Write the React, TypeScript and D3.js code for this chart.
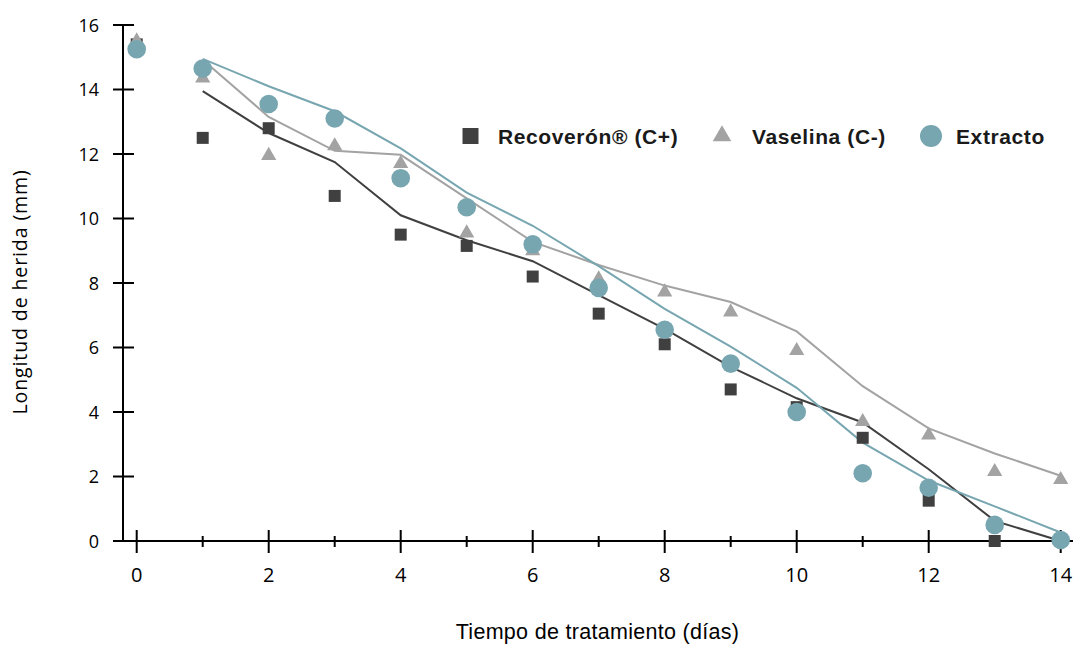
import React from 'react'
import * as d3 from 'd3'

// días de tratamiento
const days = [0, 1, 2, 3, 4, 5, 6, 7, 8, 9, 10, 11, 12, 13, 14]
// longitud de herida (mm) por grupo
const recoveron = [15.4, 12.5, 12.8, 10.7, 9.5, 9.15, 8.2, 7.05, 6.1, 4.7, 4.15, 3.2, 1.25, 0, 0]
const vaselina = [15.5, 14.35, 11.95, 12.25, 11.7, 9.55, 9.0, 8.12, 7.72, 7.1, 5.9, 3.7, 3.28, 2.15, 1.9]
const extracto = [15.25, 14.65, 13.55, 13.1, 11.25, 10.35, 9.2, 7.85, 6.55, 5.5, 4.0, 2.1, 1.65, 0.5, 0.03]

const seriesNames = ['Recoverón® (C+)', 'Vaselina (C-)', 'Extracto']
const xMajorTicks = [0, 2, 4, 6, 8, 10, 12, 14]
const xMinorTicks = [1, 3, 5, 7, 9, 11, 13]
const yTicks = [0, 2, 4, 6, 8, 10, 12, 14, 16]

const W = 1073
const H = 645

const dark = '#404040'
const grey = '#a3a3a3'
const teal = '#77a6b0'

const x = d3.scaleLinear().domain([0, 14]).range([136.7, 1060.7])
const y = d3.scaleLinear().domain([0, 16]).range([541, 25])

// media móvil de 2 periodos (línea de tendencia)
const movingAvg = (vals: number[]) =>
  d3.pairs(vals, (a, b) => (a + b) / 2).map((v, i) => [days[i + 1], v] as [number, number])

const line = d3
  .line<[number, number]>()
  .x(d => x(d[0]))
  .y(d => y(d[1]))

const squarePath = d3.symbol(d3.symbolSquare, 144)()
const trianglePath = d3.symbol(d3.symbolTriangle, 100)()
const legendSquare = d3.symbol(d3.symbolSquare, 256)()
const legendTriangle = d3.symbol(d3.symbolTriangle, 150)()

export default function App() {
  const axisFont = '"Open Sans", sans-serif'
  const legendFont = '"Liberation Sans", Arial, sans-serif'

  return (
    <svg
      width={W}
      height={H}
      style={{ position: 'absolute', left: 0, top: 0, background: '#fff' }}
    >
      {/* ejes */}
      <g stroke="#000" strokeWidth={2}>
        <line x1={123} x2={123} y1={y(16)} y2={y(0)} />
        {yTicks.map(t => (
          <line key={'yt' + t} x1={113} x2={134} y1={y(t)} y2={y(t)} />
        ))}
        <line x1={113} x2={W} y1={y(0)} y2={y(0)} />
        {xMajorTicks.map(t => (
          <line key={'xM' + t} x1={x(t)} x2={x(t)} y1={y(0) - 11} y2={y(0) + 12} />
        ))}
        {xMinorTicks.map(t => (
          <line key={'xm' + t} x1={x(t)} x2={x(t)} y1={y(0) - 5} y2={y(0) + 6} />
        ))}
      </g>

      {yTicks.map(t => (
        <text
          key={'yl' + t}
          x={99}
          y={y(t) + 6.5}
          textAnchor="end"
          fontFamily={axisFont}
          fontSize={18}
          fill="#000"
        >
          {t}
        </text>
      ))}
      {xMajorTicks.map(t => (
        <text
          key={'xl' + t}
          x={x(t)}
          y={582}
          textAnchor="middle"
          fontFamily={axisFont}
          fontSize={20}
          fill="#000"
        >
          {t}
        </text>
      ))}

      <text
        x={597.5}
        y={639}
        textAnchor="middle"
        fontFamily={legendFont}
        fontSize={21.5}
        letterSpacing={0.3}
        fill="#000"
      >
        Tiempo de tratamiento (días)
      </text>
      <text
        transform="translate(27,292) rotate(-90)"
        textAnchor="middle"
        fontFamily={axisFont}
        fontSize={19.5}
        letterSpacing={0.9}
        fill="#000"
      >
        Longitud de herida (mm)
      </text>

      {/* líneas de tendencia */}
      <path d={line(movingAvg(recoveron)) ?? ''} fill="none" stroke={dark} strokeWidth={2} />
      <path d={line(movingAvg(vaselina)) ?? ''} fill="none" stroke={grey} strokeWidth={2} />
      <path d={line(movingAvg(extracto)) ?? ''} fill="none" stroke={teal} strokeWidth={2} />

      {/* marcadores */}
      {recoveron.map((v, i) => (
        <path
          key={'r' + i}
          d={squarePath ?? ''}
          transform={`translate(${x(days[i])},${y(v)})`}
          fill={dark}
        />
      ))}
      {vaselina.map((v, i) => (
        <path
          key={'v' + i}
          d={trianglePath ?? ''}
          transform={`translate(${x(days[i])},${y(v)})`}
          fill={grey}
        />
      ))}
      {extracto.map((v, i) => (
        <circle key={'e' + i} cx={x(days[i])} cy={y(v)} r={9.3} fill={teal} />
      ))}

      {/* leyenda */}
      <g fontFamily={legendFont} fontWeight="bold" fontSize={21} letterSpacing={0.6} fill="#1a1a1a">
        <path d={legendSquare ?? ''} transform="translate(470.5,136)" fill={dark} />
        <text x={498} y={143.5}>{seriesNames[0]}</text>
        <path d={legendTriangle ?? ''} transform="translate(722,136)" fill={grey} />
        <text x={752} y={143.5}>{seriesNames[1]}</text>
        <circle cx={931} cy={136} r={11} fill={teal} />
        <text x={956} y={143.5}>{seriesNames[2]}</text>
      </g>
    </svg>
  )
}
